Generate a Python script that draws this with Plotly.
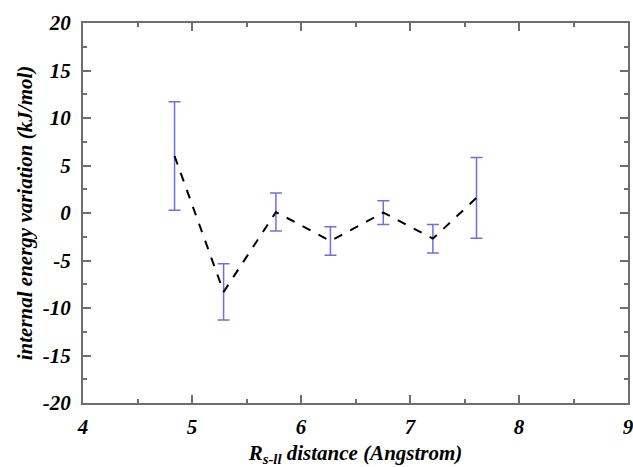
import plotly.graph_objects as go

# Data
distance = [4.84, 5.29, 5.77, 6.27, 6.755, 7.21, 7.61]
energy = [6.0, -8.3, 0.1, -2.95, 0.05, -2.7, 1.6]
error = [5.7, 2.95, 2.0, 1.5, 1.25, 1.5, 4.25]

x_ticks = [4, 5, 6, 7, 8, 9]
y_ticks = [-20, -15, -10, -5, 0, 5, 10, 15, 20]

FONT = "'Times New Roman', 'Liberation Serif', serif"
AXIS_COLOR = "#6e6e6e"

fig = go.Figure()
fig.add_trace(go.Scatter(
    x=distance, y=energy,
    mode="lines",
    line=dict(color="black", width=2, dash="dash"),
    error_y=dict(type="data", array=error, visible=True,
                 color="#6f6fe0", thickness=1.5, width=6),
    showlegend=False,
))

axis_common = dict(
    showgrid=False, zeroline=False,
    showline=True, linecolor=AXIS_COLOR, linewidth=2,
    mirror="allticks", automargin=False,
    ticks="inside", ticklen=8, tickwidth=1.5, tickcolor=AXIS_COLOR,
    ticklabeloverflow="allow",
    tickfont=dict(family=FONT, size=21, color="black", weight="bold", style="italic"),
)

fig.update_xaxes(
    range=[4, 9], tickvals=x_ticks, ticktext=[str(v) for v in x_ticks],
    minor=dict(dtick=0.5, ticklen=4, tickwidth=1.5, tickcolor=AXIS_COLOR, ticks="inside"),
    title=dict(text="R<sub>s-ll</sub> distance (Angstrom)",
               font=dict(family=FONT, size=21, color="black", weight="bold", style="italic"),
               standoff=12),
    ticklabelstandoff=4,
    **axis_common,
)
fig.update_yaxes(
    range=[-20, 20], tickvals=y_ticks, ticktext=[str(v) for v in y_ticks],
    minor=dict(dtick=2.5, ticklen=4, tickwidth=1.5, tickcolor=AXIS_COLOR, ticks="inside"),
    title=dict(text="internal energy variation (kJ/mol)",
               font=dict(family=FONT, size=21, color="black", weight="bold", style="italic"),
               standoff=4),
    ticklabelstandoff=6,
    **axis_common,
)

fig.update_layout(
    width=633, height=467,
    margin=dict(l=83, r=5, t=23, b=64),
    paper_bgcolor="white", plot_bgcolor="white",
)

fig.write_html("out.html")
